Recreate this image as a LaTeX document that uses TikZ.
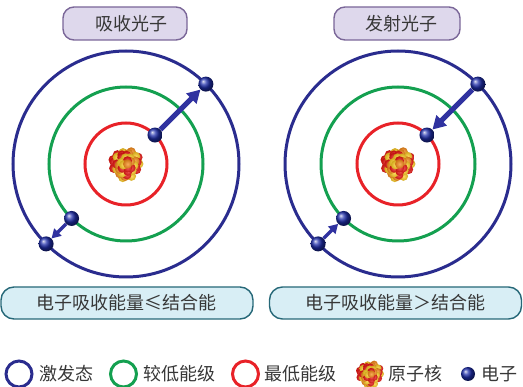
\documentclass[tikz,border=0pt]{standalone}
\usepackage{fontspec}
\newfontfamily\cjk{Noto Sans CJK SC}
\usetikzlibrary{arrows.meta,shadings}

\definecolor{exblue}{RGB}{42,44,142}
\definecolor{lowgreen}{RGB}{20,160,80}
\definecolor{lowred}{RGB}{232,34,40}
\definecolor{arrblue}{RGB}{48,50,160}
\definecolor{eblue}{RGB}{30,45,170}
\definecolor{nucred}{RGB}{235,22,18}
\definecolor{nucyel}{RGB}{255,205,35}
\definecolor{nucora}{RGB}{248,140,25}
\definecolor{titlefill}{RGB}{222,216,236}
\definecolor{titleedge}{RGB}{122,102,152}
\definecolor{notefill}{RGB}{216,238,245}
\definecolor{noteedge}{RGB}{38,104,120}
\definecolor{txt}{RGB}{55,55,55}

% soft sphere shading: light centre, coloured rim
\tikzset{sphere/.style={shading=radial, inner color=#1!72!white, outer color=#1!82!black}}

% cluster of red / yellow balls forming a nucleus (outer balls first, inner ones in front)
\newcommand\drawNucleus[2]{%
  \begin{scope}[shift={(#1)},scale=#2]
    \foreach \k in {40,39,...,0}{
      \pgfmathsetmacro\rad{14*sqrt((\k+0.5)/41)}
      \pgfmathsetmacro\ang{\k*137.508+mod(\k*53,29)}
      \pgfmathtruncatemacro\cc{mod(\k*\k*5+\k*11+3,9)}
      \ifcase\cc\def\bc{nucred}\or\def\bc{nucyel}\or\def\bc{nucred}\or\def\bc{nucora}\or\def\bc{nucred}\or\def\bc{nucyel}\else\def\bc{nucred}\fi
      \shade[sphere=\bc] (\ang:\rad) circle (4.6);
    }
  \end{scope}%
}

\tikzset{
  orbit/.style={line width=3pt},
  electron/.style={circle, minimum size=15pt, inner sep=0pt},
  bigjump/.style={draw=arrblue, line width=5pt, -{Triangle[length=13pt,width=14pt]}},
  smalljump/.style={draw=arrblue, line width=3.5pt, -{Triangle[length=9pt,width=10pt]}},
  titlebox/.style={draw=titleedge, fill=titlefill, line width=1.4pt, rounded corners=11pt,
    minimum width=124pt, minimum height=33pt, inner sep=0pt, text=txt},
  notebox/.style={draw=noteedge, fill=notefill, line width=1.4pt, rounded corners=13pt,
    minimum width=252pt, minimum height=32pt, inner sep=0pt, text=txt},
  legtext/.style={anchor=west, inner sep=0pt, text=txt},
}

\begin{document}
\begin{tikzpicture}[x=1pt,y=-1pt,font=\cjk\fontsize{18}{21}\selectfont]
\useasboundingbox (0,0) rectangle (523,387);

% atom centres
\coordinate (cL) at (126,164);
\coordinate (cR) at (398,164);

% titles
\node[titlebox] (tL) at (125,23.5) {\hspace{13pt}吸收光子};
\node[titlebox,minimum width=126pt] (tR) at (397,23.5) {\hspace{8pt}发射光子};

% orbits
\foreach \c in {cL,cR}{
  \draw[orbit,exblue] (\c) circle (113);
  \draw[orbit,lowgreen] (\c) circle (77);
  \draw[orbit,lowred] (\c) circle (41);
}

% nuclei
\drawNucleus{cL}{1}
\drawNucleus{cR}{1}

% electron positions
\node[electron] (aIn)  at ([shift={(-45:41)}]cL) {};
\node[electron] (aOut) at ([shift={(-45:113)}]cL) {};
\node[electron] (aMid) at ([shift={(135:77)}]cL) {};
\node[electron] (aEx)  at ([shift={(135:113)}]cL) {};
\node[electron] (bIn)  at ([shift={(-45:41)}]cR) {};
\node[electron] (bOut) at ([shift={(-45:113)}]cR) {};
\node[electron] (bMid) at ([shift={(135:77)}]cR) {};
\node[electron] (bEx)  at ([shift={(135:113)}]cR) {};

% transitions
\draw[bigjump] (aIn) -- (aOut);
\draw[smalljump] (aMid) -- (aEx);
\draw[bigjump] (bOut) -- (bIn);
\draw[smalljump] (bEx) -- (bMid);

% electrons
\foreach \e in {aIn,aOut,aMid,aEx,bIn,bOut,bMid,bEx}
  \shade[ball color=eblue] (\e.center) circle (7.5);

% conditions
\node[notebox] (nL) at (127,303) {电子吸收能量≤结合能};
\node[notebox] (nR) at (395.5,303) {电子吸收能量＞结合能};

% legend
\draw[orbit,exblue] (19,374) circle (13);
\node[legtext] (l1) at (39,374) {激发态};
\draw[orbit,lowgreen] (123.5,374) circle (13);
\node[legtext] (l2) at (143,374) {较低能级};
\draw[orbit,lowred] (245.5,374) circle (13);
\node[legtext] (l3) at (264,374) {最低能级};
\coordinate (nucLeg) at (370,374);
\drawNucleus{nucLeg}{0.8}
\node[legtext] (l4) at (388,374) {原子核};
\shade[ball color=eblue] (468,374) circle (7);
\node[legtext] (l5) at (481,374) {电子};
\end{tikzpicture}
\end{document}
